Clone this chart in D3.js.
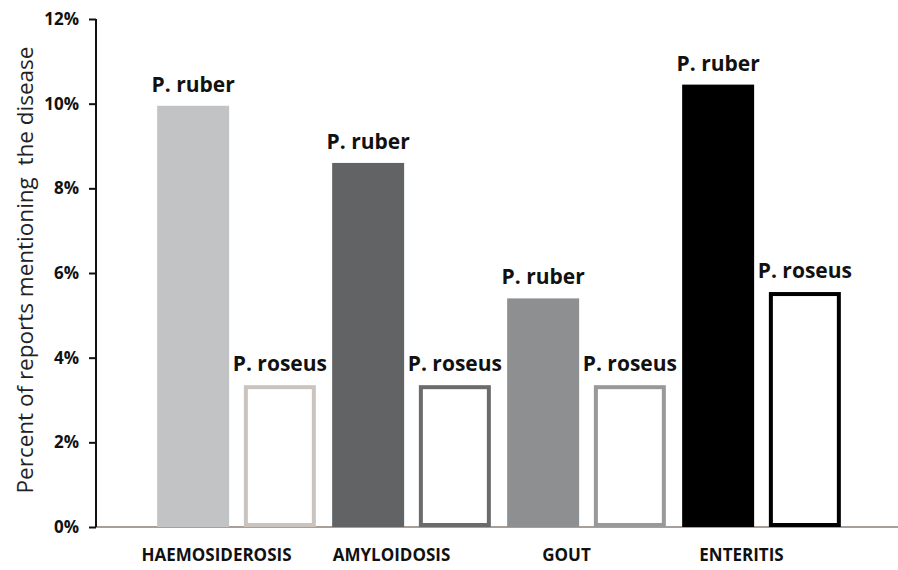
<!DOCTYPE html>
<html>
<head>
<meta charset="utf-8">
<script src="https://cdn.jsdelivr.net/npm/d3@7"></script>
<style>
  body { margin: 0; background: #fff; }
  svg { display: block; font-family: "Open Sans", Lato, sans-serif; }
</style>
</head>
<body>
<svg id="chart" width="898" height="570"></svg>
<script>
// values (percent of reports)
const diseases = ['HAEMOSIDEROSIS', 'AMYLOIDOSIS', 'GOUT', 'ENTERITIS'];
const species = ['P. ruber', 'P. roseus'];
const ruberValues = [9.95, 8.6, 5.4, 10.45];
const roseusValues = [3.35, 3.35, 3.35, 5.55];
const diseaseColors = ['#c1c3c5', '#616365', '#8d8f91', '#000000'];
const roseusStroke = ['#cbc3bd', '#6b6b6b', '#999999', '#000000'];
const yTicks = [0, 2, 4, 6, 8, 10, 12];

const svg = d3.select('#chart');
const margin = {top: 19, left: 96, bottom: 43};
const height = 570;

const y = d3.scaleLinear()
    .domain([0, 12])
    .range([height - margin.bottom, margin.top]);

const x = d3.scaleBand()
    .domain(diseases)
    .range([149, 849]);

const xInner = d3.scaleBand()
    .domain(species)
    .range([0, x.bandwidth()])
    .paddingInner(0.17)
    .paddingOuter(0.094);

const rows = diseases.map((d, i) => ({
    disease: d,
    color: diseaseColors[i],
    stroke: roseusStroke[i],
    values: [ruberValues[i], roseusValues[i]]
}));

// baseline (light brownish, runs to the right edge)
svg.append('line')
    .attr('x1', margin.left)
    .attr('x2', 898)
    .attr('y1', y(0))
    .attr('y2', y(0))
    .attr('stroke', '#a99f98')
    .attr('stroke-width', 2);

const groups = svg.append('g')
    .selectAll('g')
    .data(rows)
    .join('g')
    .attr('transform', d => `translate(${x(d.disease)},0)`);

// P. ruber filled bars
groups.append('rect')
    .attr('x', xInner('P. ruber'))
    .attr('width', xInner.bandwidth())
    .attr('y', d => y(d.values[0]))
    .attr('height', d => y(0) - y(d.values[0]))
    .attr('fill', d => d.color);

// P. roseus outlined bars
const sw = 4;
groups.append('rect')
    .attr('x', xInner('P. roseus') + sw / 2)
    .attr('width', xInner.bandwidth() - sw)
    .attr('y', d => y(d.values[1]) + sw / 2)
    .attr('height', d => y(0) - y(d.values[1]) - sw)
    .attr('fill', '#fff')
    .attr('stroke', d => d.stroke)
    .attr('stroke-width', sw);

// bar labels
species.forEach((s, k) => {
    groups.append('text')
        .attr('x', xInner(s) + xInner.bandwidth() / 2)
        .attr('y', d => y(d.values[k]) - 14)
        .attr('text-anchor', 'middle')
        .style('font-weight', 'bold')
        .style('font-size', '21px')
        .attr('fill', '#111')
        .text(s);
});

// category labels
svg.append('g')
    .selectAll('text')
    .data(diseases)
    .join('text')
    .attr('x', d => x(d) + x.bandwidth() / 2 - 20)
    .attr('y', 561)
    .attr('text-anchor', 'middle')
    .style('font-weight', 'bold')
    .style('font-size', '17px')
    .attr('fill', '#111')
    .text(d => d);

// y axis
const yAxis = svg.append('g')
    .attr('transform', `translate(${margin.left},0)`)
    .call(d3.axisLeft(y)
        .tickValues(yTicks)
        .tickSize(7)
        .tickPadding(10)
        .tickFormat(d => d + '%'));
yAxis.select('.domain')
    .attr('d', `M0,${y(12)}V${y(0)}`)
    .attr('stroke', '#111')
    .attr('stroke-width', 2);
yAxis.selectAll('.tick line').attr('stroke', '#111').attr('stroke-width', 2);
yAxis.selectAll('.tick text')
    .style('font-family', '"Open Sans", sans-serif')
    .style('font-weight', 'bold')
    .style('font-size', '17px')
    .attr('fill', '#111');

// y axis title
svg.append('text')
    .attr('transform', `translate(33,270) rotate(-90)`)
    .attr('text-anchor', 'middle')
    .style('font-size', '22.5px')
    .attr('fill', '#222')
    .attr('xml:space', 'preserve')
    .text('Percent of reports mentioning  the disease');
</script>
</body>
</html>
